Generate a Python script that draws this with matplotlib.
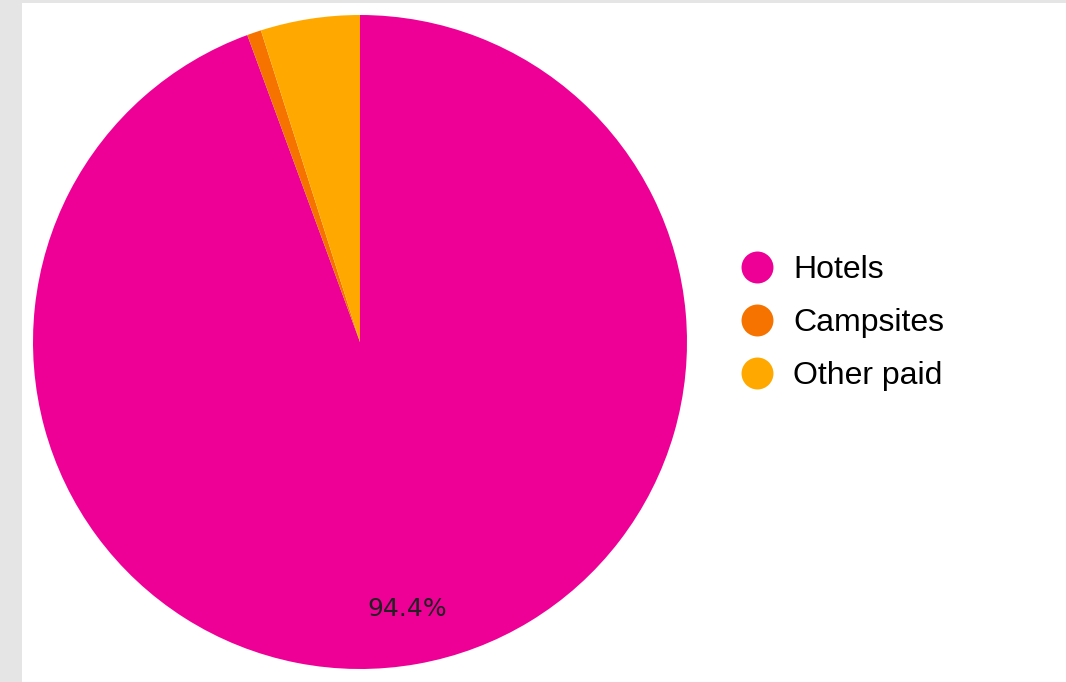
import matplotlib.pyplot as plt
from matplotlib.lines import Line2D
from matplotlib.patches import Rectangle

# Accommodation share by type
categories = ["Hotels", "Campsites", "Other paid"]
shares = [94.4, 0.7, 4.9]
colors = ["#EE0097", "#F77300", "#FFA900"]

W, H = 1066, 682
fig = plt.figure(figsize=(W / 100, H / 100), dpi=100)
fig.patch.set_facecolor("#E5E5E5")
fig.patches.append(Rectangle((22 / W, 0), 1 - 22 / W, (H - 3) / H,
                             transform=fig.transFigure, facecolor="white",
                             edgecolor="none", zorder=-5))

# pie axes: centre (360, 342) px, radius 327 px
cx, cy, r = 360, 342, 327
ax = fig.add_axes([(cx - r) / W, (H - cy - r) / H, 2 * r / W, 2 * r / H])
ax.set_facecolor("none")


def fmt(pct):
    return f"{pct:.1f}%" if pct > 10 else ""


wedges, texts, autotexts = ax.pie(
    shares, colors=colors, startangle=90, counterclock=False,
    autopct=fmt, pctdistance=0.83, radius=1,
    wedgeprops=dict(linewidth=0),
    textprops=dict(color="#222222", fontsize=18, family="DejaVu Sans"),
)
ax.set_xlim(-1, 1)
ax.set_ylim(-1, 1)
ax.set_aspect("equal")
ax.axis("off")

handles = [Line2D([], [], marker="o", linestyle="none", markersize=23,
                  markerfacecolor=c, markeredgecolor="none") for c in colors]
fig.legend(handles, categories, loc="center left",
           bbox_to_anchor=(725 / W, (H - 323) / H), frameon=False,
           prop=dict(family="Liberation Sans", size=23),
           labelspacing=0.71, handletextpad=0.64, handlelength=1.0,
           borderpad=0)

fig.savefig("out.png", dpi=100, facecolor=fig.get_facecolor())
